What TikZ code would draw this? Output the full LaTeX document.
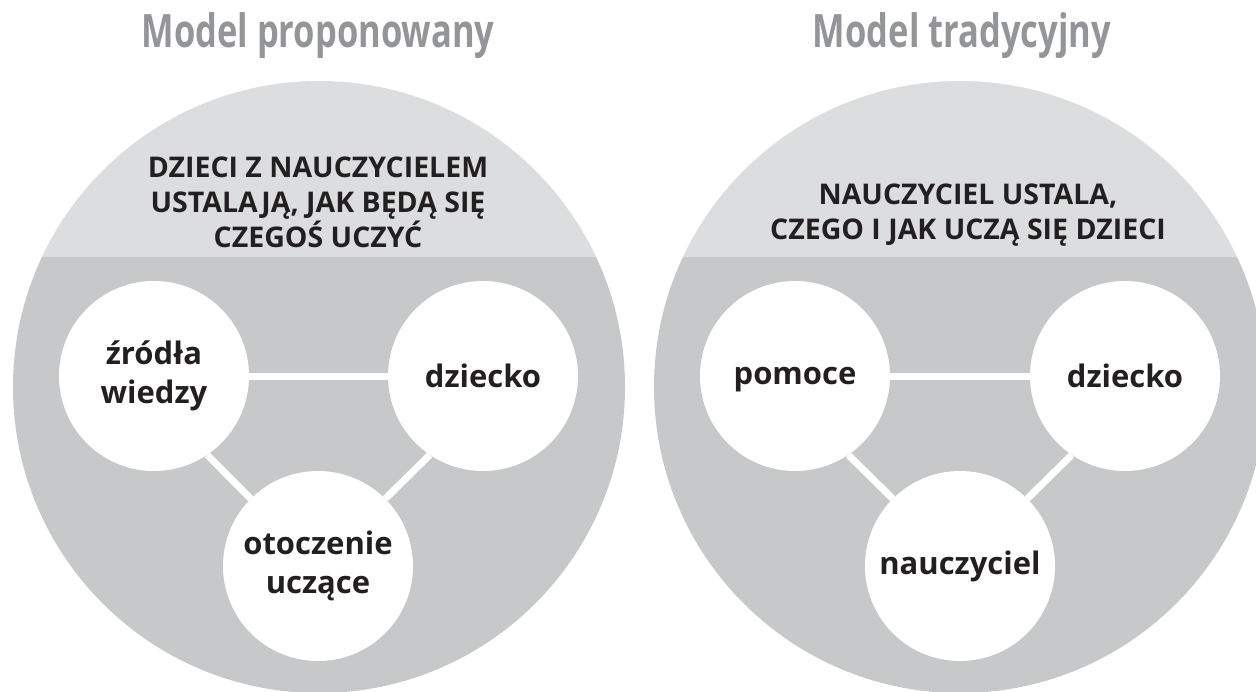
\documentclass[tikz,border=0pt]{standalone}
\usepackage{fontspec}
\setmainfont{Open Sans}
\newfontfamily\headfont[FakeStretch=0.75]{Open Sans}
\definecolor{lightgr}{HTML}{DCDDDF}
\definecolor{darkgr}{HTML}{C7C8CA}
\definecolor{headgr}{HTML}{939598}
\definecolor{ink}{HTML}{231F20}
\begin{document}
\begin{tikzpicture}[x=1pt, y=-1pt, every node/.style={text=ink},
  bub/.style={circle, fill=white, minimum size=190pt, inner sep=0pt, align=center, font=\bfseries\fontsize{31}{39}\selectfont},
  caption/.style={align=center, font=\bfseries\fontsize{28.5}{35}\selectfont},
  head/.style={text=headgr, font=\headfont\bfseries\fontsize{46}{50}\selectfont},
  link/.style={white, line width=7pt}]
\useasboundingbox (0,0) rectangle (1256,691);
\foreach \cx in {319,960} {
  \begin{scope}
    \clip (\cx,387) circle [radius=306pt];
    \fill[lightgr] (\cx-310,70) rectangle (\cx+310,257);
    \fill[darkgr] (\cx-310,257) rectangle (\cx+310,700);
  \end{scope}
}
\node[head, anchor=base] (lhead) at (318,47) {Model proponowany};
\node[head, anchor=base] (rhead) at (962,47) {Model tradycyjny};
\node[caption] (lcap) at (318,202) {DZIECI Z NAUCZYCIELEM\\USTALAJĄ, JAK BĘDĄ SIĘ\\CZEGOŚ UCZYĆ};
\node[caption] (rcap) at (968,215) {NAUCZYCIEL USTALA,\\CZEGO I JAK UCZĄ SIĘ DZIECI};
\node[bub] (zrodla) at (154,376) {źródła\\wiedzy};
\node[bub] (ldziecko) at (483,376) {dziecko};
\node[bub] (otoczenie) at (318,566) {otoczenie\\uczące};
\node[bub] (pomoce) at (795,376) {\vphantom{d}pomoce};
\node[bub] (rdziecko) at (1125,376) {dziecko};
\node[bub] (nauczyciel) at (960,566) {nauczyciel};
\draw[link] (zrodla) -- (ldziecko);
\draw[link] (zrodla.-56) -- (otoczenie.135);
\draw[link] (ldziecko.-124) -- (otoczenie.45);
\draw[link] (pomoce) -- (rdziecko);
\draw[link] (pomoce.-56) -- (nauczyciel.135);
\draw[link] (rdziecko.-124) -- (nauczyciel.45);
\end{tikzpicture}
\end{document}
